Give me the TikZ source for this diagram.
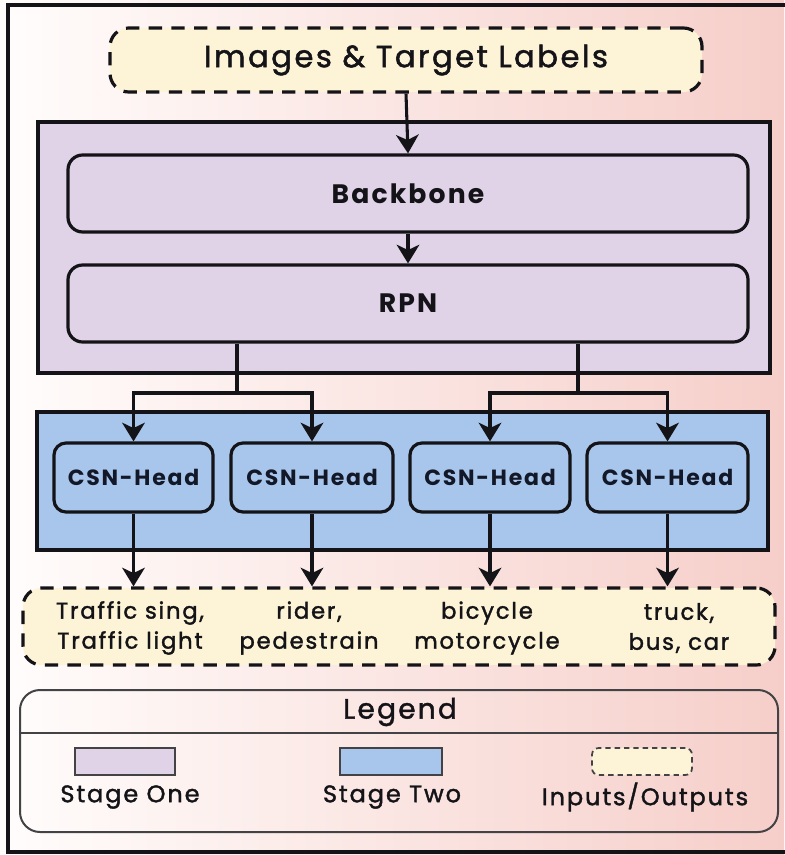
\documentclass[tikz,border=0pt]{standalone}
\usepackage{fontspec}
\setmainfont{Poppins}[LetterSpace=8]
\newfontfamily\medium{Poppins}[LetterSpace=8,FakeBold=1.6]
\usetikzlibrary{fit,arrows.meta}

\definecolor{bgleft}{RGB}{255,253,252}
\definecolor{bgright}{RGB}{246,206,201}
\definecolor{stageone}{RGB}{224,211,232}
\definecolor{stagetwo}{RGB}{168,198,236}
\definecolor{iofill}{RGB}{253,243,214}
\definecolor{ink}{RGB}{20,20,24}
\definecolor{navy}{RGB}{18,24,40}

\begin{document}
\begin{tikzpicture}[x=0.75pt,y=-0.75pt,
  txt/.style={text=ink,font=#1},
  stagebox/.style={draw=ink,line width=2.6pt,inner sep=0pt},
  blockbox/.style={draw=ink,line width=2.4pt,rounded corners=11pt,inner sep=0pt,fill=stageone},
  headbox/.style={draw=ink,line width=2.4pt,rounded corners=9pt,inner sep=0pt,fill=stagetwo},
  iobox/.style={draw=ink,line width=2.4pt,dash pattern=on 10pt off 7pt,rounded corners=14pt,inner sep=0pt,fill=iofill},
  flow/.style={draw=ink,line width=2.3pt,-{Stealth[length=14pt,width=17pt,inset=4pt]}},
  link/.style={draw=ink,line width=2.3pt},
]
\useasboundingbox (0,0) rectangle (784,855);
% background and outer frame
\shade[left color=bgleft,right color=bgright] (0,0) rectangle (784,855);
\draw[ink,line width=3pt] (8,5) rectangle (800,852);

% input
\node[iobox,fit={(110,28)(702,92)}] (in) {};
\node[txt={\medium\fontsize{23pt}{26pt}\selectfont}] (intxt) at (in.center) {Images \& Target Labels};

% stage one
\node[stagebox,fill=stageone,fit={(38,122)(770,373)}] (s1) {};
\node[blockbox,fit={(68,155)(748,232)}] (bb) {};
\node[txt={\fontsize{20pt}{23pt}\selectfont\bfseries}] at (bb.center) {Backbone};
\node[blockbox,fit={(68,265)(748,342)}] (rpn) {};
\node[txt={\fontsize{20pt}{23pt}\selectfont\bfseries}] at (rpn.center) {RPN};

% stage two
\node[stagebox,fill=stagetwo,fit={(37,412)(768,550)}] (s2) {};
\node[headbox,fit={(54,443)(213,512)}] (h1) {};
\node[headbox,fit={(231,443)(393,512)}] (h2) {};
\node[headbox,fit={(410,443)(570,512)}] (h3) {};
\node[headbox,fit={(587,443)(748,512)}] (h4) {};
\foreach \h in {h1,h2,h3,h4}
  \node[text=navy,font=\fontsize{16.5pt}{19pt}\selectfont\bfseries] at (\h.center) {CSN-Head};

% outputs
\node[iobox,fit={(23,588)(775,665)}] (out) {};
\tikzset{otxt/.style={txt={\medium\fontsize{17pt}{22.5pt}\selectfont},align=center}}
\node[otxt] (o1) at (130,628) {Traffic sing,\\Traffic light};
\node[otxt] (o2) at (309,628) {rider,\\pedestrain};
\node[otxt] (o3) at (487,628) {bicycle\\motorcycle};
\node[otxt] (o4) at (679,628) {truck,\\bus, car};

% connectors
\draw[flow] (in.south) -- (bb.north);
\draw[flow] (bb.south) -- (rpn.north);
\coordinate (jL) at (237,393);
\coordinate (jR) at (578,393);
\draw[link] (rpn.south -| jL) -- (jL);
\draw[link] (rpn.south -| jR) -- (jR);
\draw[flow] (jL) -- (jL -| h1.north) -- (h1.north);
\draw[flow] (jL) -- (jL -| h2.north) -- (h2.north);
\draw[flow] (jR) -- (jR -| h3.north) -- (h3.north);
\draw[flow] (jR) -- (jR -| h4.north) -- (h4.north);
\foreach \h in {h1,h2,h3,h4}
  \draw[flow] (\h.south) -- (\h.south |- out.north);

% legend
\node[draw=ink!80,line width=1.5pt,rounded corners=15pt,inner sep=0pt,fit={(20,690)(778,832)}] (lg) {};
\coordinate (ldiv) at (0,733);
\draw[ink!80,line width=1.3pt] (lg.west |- ldiv) -- (lg.east |- ldiv);
\node[txt={\medium\fontsize{21pt}{24pt}\selectfont}] (lgt) at (400,712) {Legend};
\node[draw=ink!80,line width=1.3pt,fill=stageone,inner sep=0pt,fit={(75,748)(175,775)}] (k1) {};
\node[draw=ink!80,line width=1.3pt,fill=stagetwo,inner sep=0pt,fit={(340,748)(442,775)}] (k2) {};
\node[draw=ink!80,line width=1.3pt,fill=iofill,dash pattern=on 4pt off 3pt,rounded corners=5pt,inner sep=0pt,fit={(592,748)(692,775)}] (k3) {};
\tikzset{ltxt/.style={txt={\medium\fontsize{18pt}{21pt}\selectfont}}}
\node[ltxt] at (130,797) {Stage One};
\node[ltxt] at (392,797) {Stage Two};
\node[ltxt] at (645,797) {Inputs/Outputs};
\end{tikzpicture}
\end{document}
